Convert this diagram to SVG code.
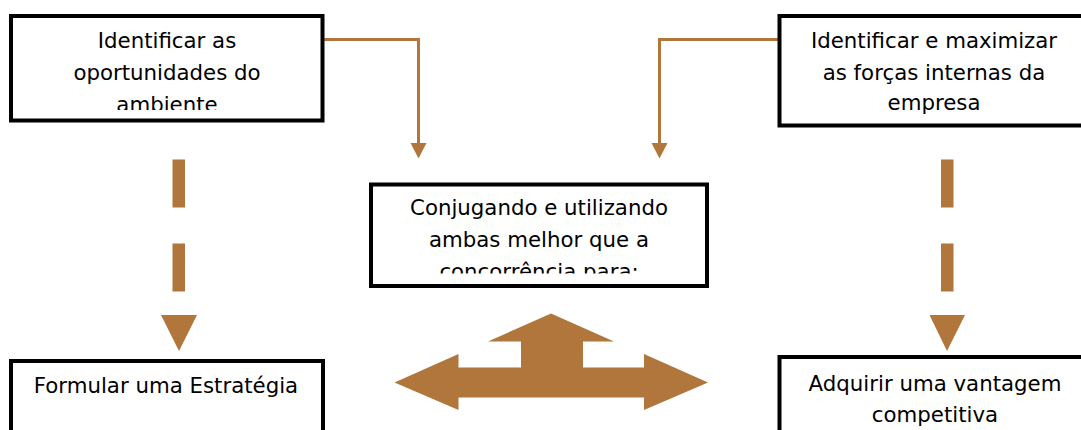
<svg xmlns="http://www.w3.org/2000/svg" width="1081" height="430" viewBox="0 0 1081 430">
<style>
.box{fill:#fff;stroke:#000;stroke-width:4}
.t{font-family:"DejaVu Sans","Liberation Sans",sans-serif;font-size:21.3px;fill:#000;text-anchor:middle}
.conn{fill:none;stroke:#B0763B;stroke-width:3}
.brown{fill:#B0763B}
</style>
<defs>
<clipPath id="c1"><rect x="13" y="18" width="308" height="92"/></clipPath>
<clipPath id="c3"><rect x="373" y="186" width="332" height="87.5"/></clipPath>
</defs>
<g id="connectors">
<path class="conn" d="M322,39.5 H418.5 V145"/>
<polygon class="brown" points="410.5,143 426.5,143 418.5,158.5"/>
<path class="conn" d="M779.5,39.5 H659.5 V145"/>
<polygon class="brown" points="651.5,143 667.5,143 659.5,158.5"/>
<rect class="brown" x="172.5" y="159.5" width="12.5" height="48"/>
<rect class="brown" x="172.5" y="243.5" width="12.5" height="48"/>
<polygon class="brown" points="161,315 197,315 179,351"/>
<rect class="brown" x="941" y="159.5" width="12.5" height="48"/>
<rect class="brown" x="941" y="243.5" width="12.5" height="48"/>
<polygon class="brown" points="929.5,315 965,315 947,351"/>
</g>
<g id="node-oportunidades">
<rect class="box" x="11" y="16" width="311.5" height="104.5"/>
<g clip-path="url(#c1)">
<text class="t" x="167" y="48">Identificar as</text>
<text class="t" x="167" y="80">oportunidades do</text>
<text class="t" x="167" y="112">ambiente</text>
</g>
</g>
<g id="node-forcas">
<rect class="box" x="779.5" y="16" width="312" height="109.5"/>
<text class="t" x="934" y="48">Identificar e maximizar</text>
<text class="t" x="934" y="80">as forças internas da</text>
<text class="t" x="934" y="110">empresa</text>
</g>
<g id="node-conjugando">
<rect class="box" x="371" y="184.5" width="336" height="101.5"/>
<g clip-path="url(#c3)">
<text class="t" x="539" y="215">Conjugando e utilizando</text>
<text class="t" x="539" y="247">ambas melhor que a</text>
<text class="t" x="539" y="279">concorrência para:</text>
</g>
</g>
<g id="node-multiarrow">
<polygon class="brown" points="551,313.5 614,341.5 583,341.5 583,367.5 644,367.5 644,354 708,382.5 644,410 644,397.5 458.5,397.5 458.5,410 394.5,382.5 458.5,354 458.5,367.5 521,367.5 521,341.5 488,341.5"/>
</g>
<g id="node-estrategia">
<rect class="box" x="11" y="361" width="312" height="100"/>
<text class="t" x="166" y="393">Formular uma Estratégia</text>
</g>
<g id="node-vantagem">
<rect class="box" x="779.5" y="357" width="312" height="100"/>
<text class="t" x="935" y="390.5">Adquirir uma vantagem</text>
<text class="t" x="935" y="422">competitiva</text>
</g>
</svg>
